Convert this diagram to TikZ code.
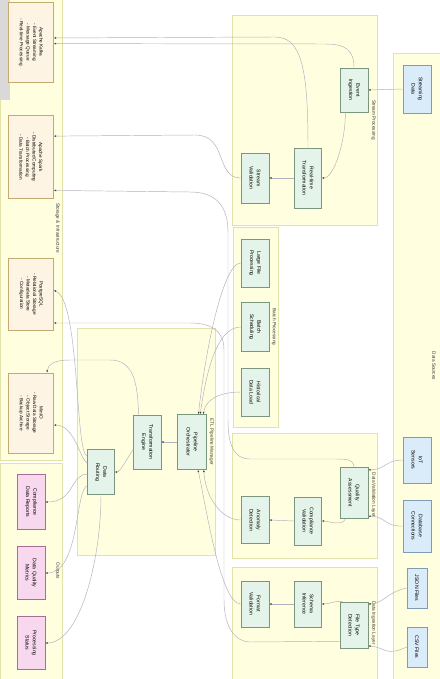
\documentclass[tikz,border=0pt]{standalone}
\usepackage{fontspec}
\setsansfont{Liberation Sans}
\usetikzlibrary{arrows.meta,calc}

\definecolor{grpfill}{RGB}{255,255,224}
\definecolor{grpline}{RGB}{226,226,170}
\definecolor{procfill}{RGB}{228,244,234}
\definecolor{procline}{RGB}{122,150,126}
\definecolor{srcfill}{RGB}{218,236,250}
\definecolor{srcline}{RGB}{128,156,180}
\definecolor{storfill}{RGB}{253,244,228}
\definecolor{storline}{RGB}{196,170,112}
\definecolor{outfill}{RGB}{248,216,238}
\definecolor{outline}{RGB}{168,108,150}
\definecolor{edgecol}{RGB}{176,176,190}

\tikzset{sz/.style 2 args={minimum height=#1*0.3mm,minimum width=#2*0.3mm}}

\begin{document}
\begin{tikzpicture}[x=0.03cm,y=-0.03cm,font=\sffamily\fontsize{4.4}{6.2}\selectfont]
%\draw[help lines] (0,0) grid (439,679);
\tikzstyle{grp}=[draw=grpline,fill=grpfill,line width=0.4pt]
\tikzstyle{glabel}=[rotate=-90,inner sep=0pt,text=black!80,font=\sffamily\fontsize{4}{5}\selectfont]
\tikzstyle{v}=[rectangle,draw=procline,fill=procfill,rotate=-90,align=center,inner sep=1pt,line width=0.45pt]
\tikzstyle{src}=[v,draw=srcline,fill=srcfill]
\tikzstyle{stor}=[v,draw=storline,fill=storfill,font=\sffamily\fontsize{4}{5.6}\selectfont]
\tikzstyle{outp}=[v,draw=outline,fill=outfill]
\tikzstyle{e}=[draw=edgecol,line width=0.4pt,-{Latex[length=2pt,width=1.6pt,color=black!75]}]

\useasboundingbox (0,0) rectangle (439,679);
\fill[white] (0,0) rectangle (439,679);

% groups
\draw[grp] (0,-2) rectangle (62,460);
\fill[black!15] (0,0) rectangle (10,100);
\draw[grp] (0,463) rectangle (62,681);
\draw[grp] (77,328) rectangle (215,555);
\draw[grp] (232,15) rectangle (377,225);
\draw[grp] (233,227) rectangle (278,427);
\draw[grp] (232,433) rectangle (377,558);
\draw[grp] (232,567) rectangle (377,681);
\draw[grp] (393,53) rectangle (441,681);

\node[glabel] at (57.5,228) {Storage \& Infrastructure};
\node[glabel] at (57.5,571) {Outputs};
\node[glabel] at (211.5,442) {ETL Pipeline Manager};
\node[glabel] at (373.5,120) {Stream Processing};
\node[glabel] at (274,327) {Batch Processing};
\node[glabel] at (373.5,495) {Data Validation Layer};
\node[glabel] at (373.5,623) {Data Ingestion Layer};
\node[glabel] at (434,366) {Data Sources};

% data sources
\node[src,sz={28}{48}] (sd) at (417,89) {Streaming\\Data};
\node[src,sz={28}{46}] (iot) at (417,460) {IoT\\Sensors};
\node[src,sz={28}{52}] (db) at (417,526) {Database\\Connections};
\node[src,sz={20}{40}] (json) at (417,588) {JSON Files};
\node[src,sz={20}{40}] (csv) at (417,647) {CSV Files};

% stream processing
\node[v,sz={28}{44}] (ei) at (354,90) {Event\\Ingestion};
\node[v,sz={27}{60}] (rt) at (308,178) {Real-time\\Transformation};
\node[v,sz={28}{50}] (sv) at (255,178) {Stream\\Validation};

% batch processing
\node[v,sz={28}{48}] (lf) at (255,263) {Large File\\Processing};
\node[v,sz={28}{49}] (bs) at (255,327) {Batch\\Scheduling};
\node[v,sz={28}{48}] (hd) at (255,392) {Historical\\Data Load};

% validation
\node[v,sz={28}{51}] (qa) at (354,493) {Quality\\Assessment};
\node[v,sz={27}{48}] (cv) at (308,521) {Compliance\\Validation};
\node[v,sz={28}{47}] (ad) at (255,520) {Anomaly\\Detection};

% ingestion
\node[v,sz={28}{46}] (ft) at (354,625) {File Type\\Detection};
\node[v,sz={27}{46}] (si) at (308,604) {Schema\\Inference};
\node[v,sz={28}{46}] (fv) at (255,604) {Format\\Validation};

% etl
\node[v,sz={29}{55}] (po) at (192,442) {Pipeline\\Orchestrator};
\node[v,sz={28}{54}] (te) at (147,442) {Transformation\\Engine};
\node[v,sz={27}{45}] (dr) at (101,472) {Data\\Routing};

% storage
\node[stor,sz={45}{80}] (kafka) at (31,42) {Apache Kafka\\- Event Streaming\\- Message Queue\\- Real-time Processing};
\node[stor,sz={45}{83}] (spark) at (31,157) {Apache Spark\\- Distributed Computing\\- Batch Processing\\- Data Transformation};
\node[stor,sz={45}{72}] (pg) at (31,294) {PostgreSQL\\- Relational Storage\\- Metadata Store\\- Configuration};
\node[stor,sz={45}{80}] (minio) at (31,413) {MinIO\\- Raw Data Storage\\- Object Storage\\- Backup Archive};

% outputs
\node[outp,sz={28}{55}] (cr) at (31,502) {Compliance\\Data Reports};
\node[outp,sz={28}{53}] (dq) at (31,573) {Data Quality\\Metrics};
\node[outp,sz={28}{53}] (ps) at (31,643) {Processing\\Status};

% edges
\draw[e] (sd.south) -- (ei.north);
\draw[e] ($(ei.south east)!0.2!(ei.north east)$) .. controls +(0,30) and +(12,0) .. (rt.north);
\draw[e] (rt.south) -- (sv.north);
\draw[e] (ei.west) .. controls +(0,-18) and +(20,0) .. (325,44) -- ($(kafka.north west)!0.52!(kafka.north east)$);
\draw[e] (rt.west) .. controls (308,70) and (302,37) .. (275,37) -- ($(kafka.north west)!0.45!(kafka.north east)$);
\draw[e] (sv.south) .. controls (215,178) and (228,135) .. (195,135) -- ($(spark.north west)!0.25!(spark.north east)$);
\draw[e] (lf.south) .. controls (222,263) and (204,360) .. ($(po.north west)!0.28!(po.south west)$);
\draw[e] (bs.south) .. controls (215,327) and (205,380) .. ($(po.north west)!0.22!(po.south west)$);
\draw[e] (hd.south) .. controls (222,392) and (206,398) .. ($(po.north west)!0.12!(po.south west)$);

\draw[e] (iot.south) .. controls (385,460) and (385,470) .. ($(qa.north west)!0.05!(qa.north east)$);
\draw[e] (db.south) .. controls (385,527) and (385,516) .. ($(qa.north west)!0.95!(qa.north east)$);
\draw[e] ($(qa.south east)!0.2!(qa.north east)$) .. controls +(-3,8) and +(6,0) .. (cv.north);
\draw[e] (cv.south) -- (ad.north);
\draw[e] (ad.south) .. controls (220,520) and (205,495) .. ($(po.north east)!0.1!(po.south east)$);
\draw[e] (qa.west) .. controls (354,459) and (345,459) .. (335,459) -- (250,459) .. controls (234,459) and (228,445) .. (228,420) -- (228,232) .. controls (228,205) and (215,192) .. (190,192) -- ($(spark.north west)!0.9!(spark.north east)$);

\draw[e] (json.south) .. controls (385,593) and (385,603) .. ($(ft.north west)!0.05!(ft.north east)$);
\draw[e] (csv.south) .. controls (385,657) and (385,647) .. ($(ft.north west)!0.95!(ft.north east)$);
\draw[e] ($(ft.south west)!0.1!(ft.north west)$) .. controls +(-5,-2) and +(8,0) .. (si.north);
\draw[e] (si.south) -- (fv.north);
\draw[e] (fv.south) .. controls (220,604) and (205,500) .. ($(po.north east)!0.3!(po.south east)$);
\draw[e] ($(ft.south west)!0.85!(ft.south east)$) -- (250,642) .. controls (236,642) and (224,628) .. (224,600) -- (224,350) .. controls (224,330) and (210,323) .. (190,323) -- ($(pg.north west)!0.9!(pg.north east)$);

\draw[e] (po.south) -- (te.north);
\draw[e] ($(te.south west)!0.65!(te.south east)$) .. controls (125,462) and (120,472) .. (dr.north);
\draw[e] ($(te.south west)!0.2!(te.north west)$) .. controls (138,380) and (132,360) .. (110,360) -- (70,360) .. controls (55,360) and (48,364) .. ($(minio.south west)!0.85!(minio.north west)$);

\draw[e] ($(dr.south west)!0.15!(dr.south east)$) .. controls (75,455) and (80,300) .. ($(pg.north west)!0.45!(pg.north east)$);
\draw[e] ($(dr.south west)!0.3!(dr.south east)$) .. controls (80,460) and (75,425) .. ($(minio.north west)!0.65!(minio.north east)$);
\draw[e] ($(dr.south west)!0.55!(dr.south east)$) .. controls (70,474) and (75,502) .. (cr.north);
\draw[e] ($(dr.south west)!0.8!(dr.south east)$) .. controls (75,490) and (80,573) .. (dq.north);
\draw[e] (dr.east) .. controls (101,560) and (80,643) .. (ps.north);
\end{tikzpicture}
\end{document}
